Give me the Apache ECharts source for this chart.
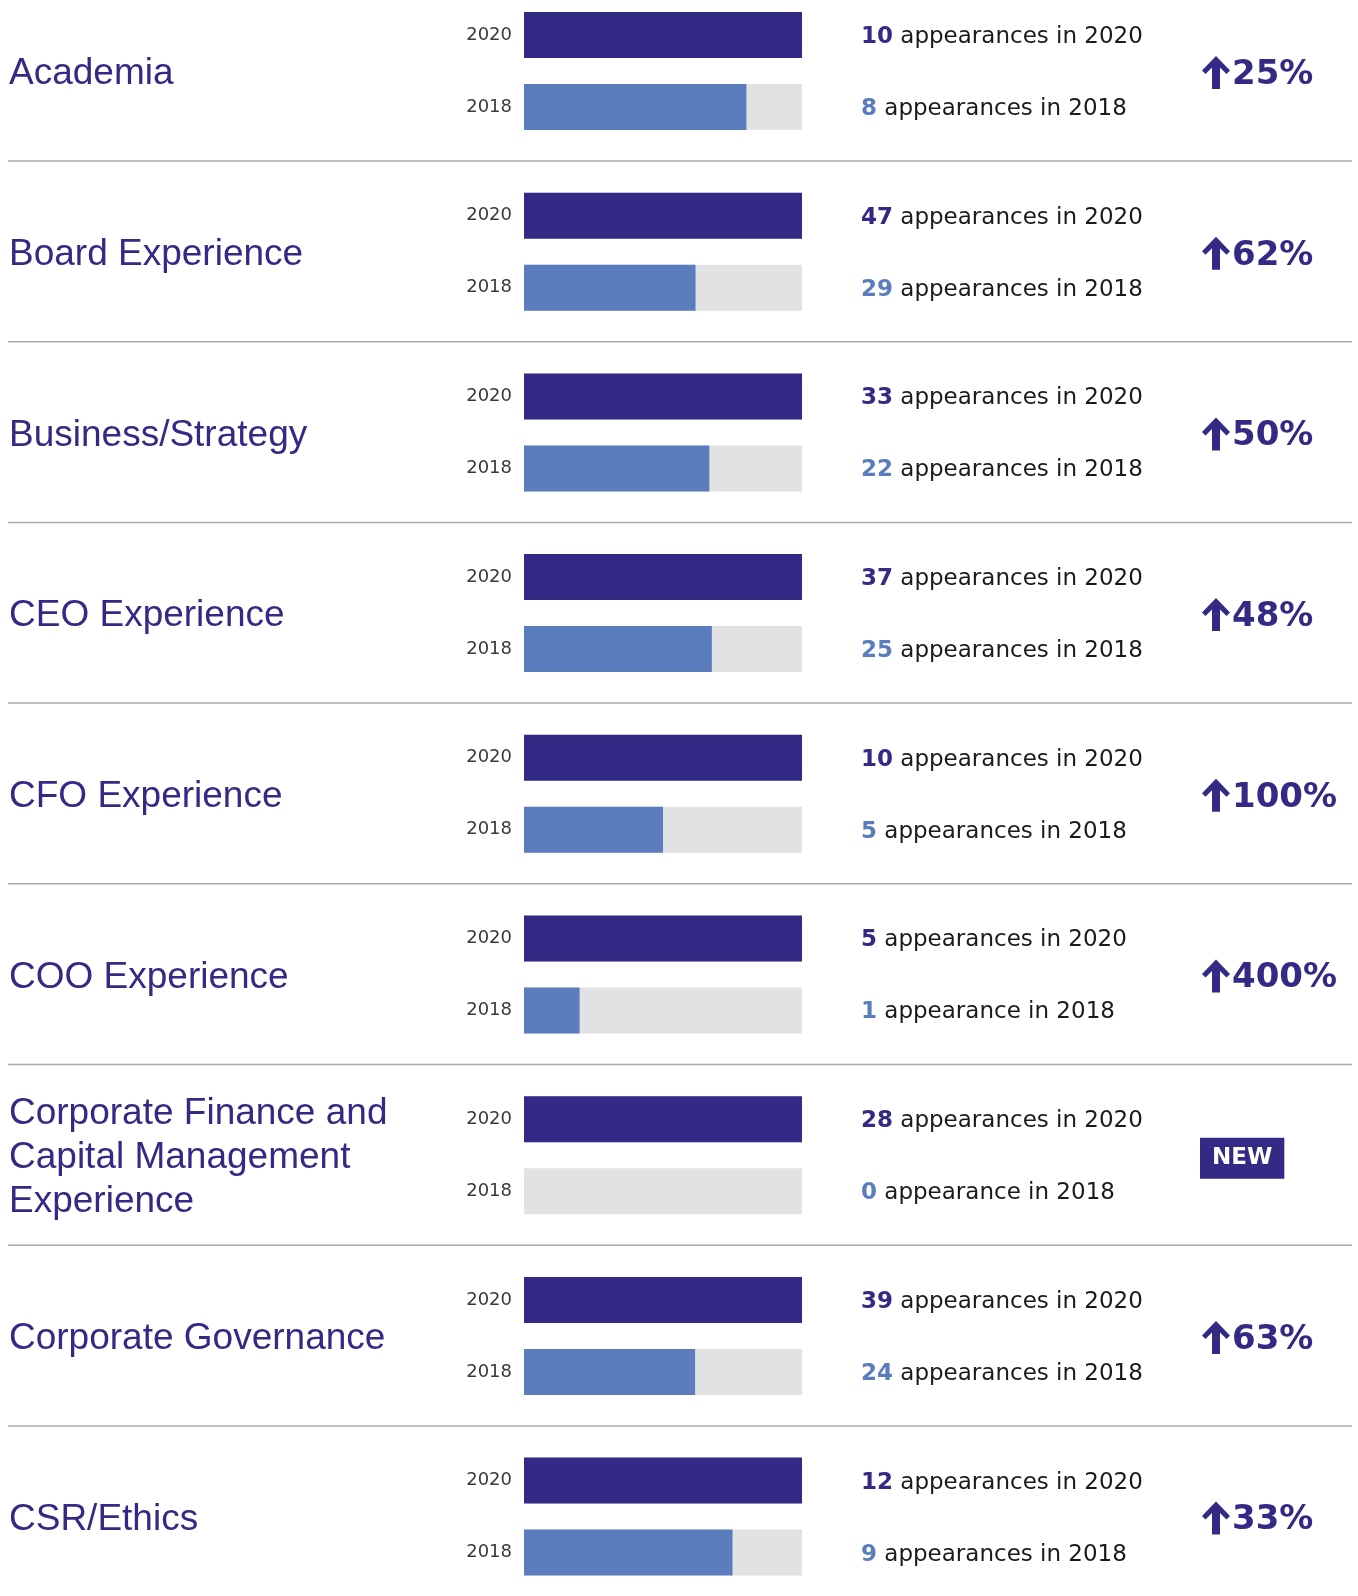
<!DOCTYPE html>
<html>
<head>
<meta charset="utf-8">
<script src="https://cdn.jsdelivr.net/npm/echarts@6/dist/echarts.min.js"></script>
<style>
html,body{margin:0;padding:0;background:#fff;}
#chart{width:1358px;height:1596px;}
</style>
</head>
<body>
<div id="chart"></div>
<script>
// ---- data ----
const categories = [
  'Academia',
  'Board Experience',
  'Business/Strategy',
  'CEO Experience',
  'CFO Experience',
  'COO Experience',
  'Corporate Finance and\nCapital Management\nExperience',
  'Corporate Governance',
  'CSR/Ethics'
];
const yearLabels = ['2020', '2018'];
const values2020 = [10, 47, 33, 37, 10, 5, 28, 39, 12];
const values2018 = [8, 29, 22, 25, 5, 1, 0, 24, 9];

// ---- style ----
const DARK = '#332a85';
const LIGHT = '#5b7dbd';
const TRACK = '#e1e2e4';
const SEP = '#a9a9a9';
const ROW_H = 180.7;
const CENTER0 = 71;

const chart = echarts.init(document.getElementById('chart'));

const grid = [], xAxis = [], yAxis = [], series = [], graphic = [];

function countText(v, year, key) {
  return '{' + key + '|' + v + '} ' + (v === 1 || v === 0 ? 'appearance' : 'appearances') + ' in ' + year;
}

categories.forEach((name, i) => {
  const center = CENTER0 + i * ROW_H;
  grid.push({ left: 524, width: 278, top: center - 72, height: 144, containLabel: false, outerBoundsMode: 'none' });
  xAxis.push({ gridIndex: i, type: 'value', min: 0, max: values2020[i], show: false });
  yAxis.push({
    gridIndex: i, type: 'category', data: yearLabels, inverse: true,
    axisLine: { show: false }, axisTick: { show: false }, splitLine: { show: false },
    axisLabel: { margin: 12, fontSize: 18, color: '#3a3a3a', fontFamily: '"DejaVu Sans"', interval: 0 }
  });
  yAxis.push({
    gridIndex: i, type: 'category', data: yearLabels, inverse: true, position: 'right',
    axisLine: { show: false }, axisTick: { show: false }, splitLine: { show: false },
    axisLabel: {
      margin: 59, interval: 0, fontSize: 23, color: '#1a1a1a', fontFamily: '"DejaVu Sans"', align: 'left',
      padding: [4, 0, 0, 0],
      formatter: (val, idx) => idx === 0
        ? countText(values2020[i], yearLabels[0], 'd')
        : countText(values2018[i], yearLabels[1], 'l'),
      rich: {
        d: { fontSize: 23, fontWeight: 'bold', color: DARK, fontFamily: '"DejaVu Sans"' },
        l: { fontSize: 23, fontWeight: 'bold', color: LIGHT, fontFamily: '"DejaVu Sans"' }
      }
    }
  });
  series.push({
    type: 'bar', xAxisIndex: i, yAxisIndex: 2 * i, barWidth: 46, silent: true,
    showBackground: true, backgroundStyle: { color: TRACK },
    data: [
      { value: values2020[i], itemStyle: { color: DARK } },
      { value: values2018[i], itemStyle: { color: LIGHT } }
    ]
  });

  // category name
  graphic.push({
    type: 'text', x: 9, y: center + 3, silent: true,
    style: {
      text: name, fill: DARK, fontSize: 37, fontFamily: '"Liberation Sans", Arial, sans-serif',
      verticalAlign: 'middle', align: 'left', lineHeight: 44
    }
  });

  // change indicator
  if (values2018[i] === 0) {
    graphic.push({
      type: 'text', x: 1200, y: center + 3, silent: true,
      style: {
        text: 'NEW', fill: '#fff', fontSize: 23, fontWeight: 'bold', fontFamily: '"DejaVu Sans"',
        verticalAlign: 'middle', align: 'left', backgroundColor: DARK, padding: [9, 12, 9, 12]
      }
    });
  } else {
    const pct = Math.round((values2020[i] - values2018[i]) / values2018[i] * 100);
    graphic.push({
      type: 'polygon', x: 1202, y: center - 15, silent: true,
      shape: { points: [[14, 0], [28, 14.5], [24.5, 18], [18, 11.5], [18, 33], [10, 33], [10, 11.5], [3.5, 18], [0, 14.5]] },
      style: { fill: DARK }
    });
    graphic.push({
      type: 'text', x: 1232, y: center + 4, silent: true,
      style: {
        text: pct + '%', fill: DARK, fontSize: 34, fontWeight: 'bold', fontFamily: '"DejaVu Sans"',
        verticalAlign: 'middle', align: 'left'
      }
    });
  }

  // separator
  if (i < categories.length - 1) {
    graphic.push({
      type: 'line', silent: true,
      shape: { x1: 8, y1: center + 90, x2: 1352, y2: center + 90 },
      style: { stroke: SEP, lineWidth: 1.5 }
    });
  }
});

chart.setOption({
  animation: false,
  backgroundColor: '#ffffff',
  grid, xAxis, yAxis, series, graphic
});
</script>
</body>
</html>
